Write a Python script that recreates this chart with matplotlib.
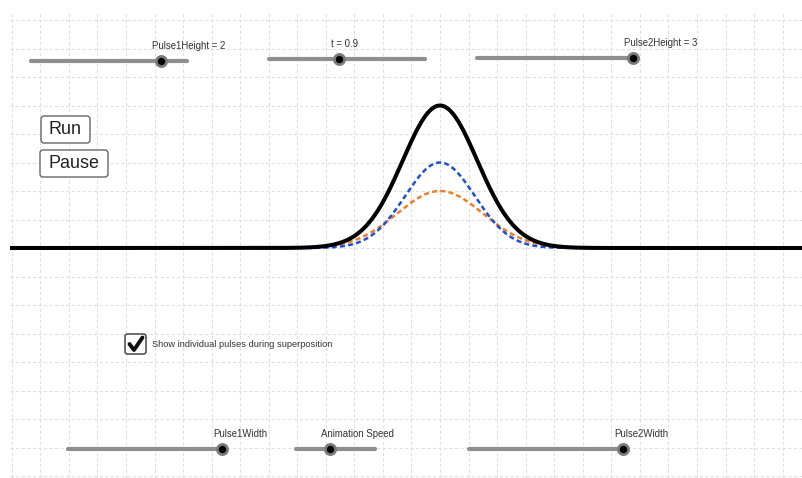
import numpy as np
import matplotlib
matplotlib.use("Agg")
import matplotlib.pyplot as plt
from matplotlib.patches import FancyBboxPatch

plt.rcParams['font.family'] = ['Liberation Sans', 'DejaVu Sans']

# pulse parameters (graph units, one grid cell = 1)
pulse_heights = [2, 3]          # Pulse1 (orange), Pulse2 (blue)
pulse_widths = [4.5, 3.0]       # h * exp(-x^2 / w)
pulse_centers = [0.0, 0.0]
pulse_colors = ['#f07c28', '#1f4fd8']

# slider widgets: label, min, max, value, show value
slider_names = ['Pulse1Height', 't', 'Pulse2Height', 'Pulse1Width', 'Animation Speed', 'Pulse2Width']
slider_mins = [-3, 0, -3, 0, 0, 0]
slider_maxs = [3, 2, 3, 5, 5, 5]
slider_values = [2, 0.9, 3, 5, 2.15, 5]
slider_show_value = [True, True, True, False, False, False]

button_labels = ['Run', 'Pause']
checkbox_label = 'Show individual pulses during superposition'

W, H = 802, 478
fig = plt.figure(figsize=(W / 100, H / 100), dpi=100)

# graphics view in graph units
ax = fig.add_axes([0, 0, 1, 1])
unit_x, unit_y = 28.55, 28.5
ox, oy = 440, 248
xmin, xmax = -ox / unit_x, (W - ox) / unit_x
ymin, ymax = -(H - oy) / unit_y, oy / unit_y
ax.set_xlim(xmin, xmax)
ax.set_ylim(ymin, ymax)
ax.axis('off')

grid_left = -(ox - 10) / unit_x
grid_top = (oy - 12) / unit_y
grid_style = dict(color='#e0e0e0', lw=0.8, linestyle=(0, (3, 2)), zorder=0)
for gx in range(int(np.ceil(grid_left)), int(np.floor(xmax)) + 1):
    ax.plot([gx, gx], [ymin, grid_top], **grid_style)
for gy in range(int(np.ceil(ymin)), int(np.floor(grid_top)) + 1):
    ax.plot([grid_left, xmax], [gy, gy], **grid_style)

x = np.linspace(grid_left, xmax, 3000)
total = np.zeros_like(x)
for h, w, c, col in zip(pulse_heights, pulse_widths, pulse_centers, pulse_colors):
    y = h * np.exp(-(x - c) ** 2 / w)
    total += y
    ax.plot(x, y, color=col, lw=1.8, linestyle=(0, (2.0, 1.3)), zorder=2)
ax.plot(x, total, color='black', lw=2.9, zorder=3, solid_capstyle='butt')

# overlay in screen pixels for the widgets
ui = fig.add_axes([0, 0, 1, 1])
ui.set_xlim(0, W)
ui.set_ylim(H, 0)
ui.axis('off')
ui.patch.set_alpha(0)

# slider track ends and row (pixels)
slider_x0 = [31, 269, 477, 68, 296, 469]
slider_x1 = [187, 425, 633, 222, 375, 623]
slider_y = [61, 59, 58, 449, 449, 449]

for name, lo, hi, val, show, x0, x1, sy in zip(slider_names, slider_mins, slider_maxs,
                                                slider_values, slider_show_value,
                                                slider_x0, slider_x1, slider_y):
    ui.plot([x0, x1], [sy, sy], color='#8e8e8e', lw=3, solid_capstyle='round', zorder=4)
    kx = x0 + (val - lo) / (hi - lo) * (x1 - x0)
    ui.plot(kx, sy, 'o', ms=7.3, mfc='black', mec='#7a7a7a', mew=2, zorder=5)
    label = f'{name} = {val:g}' if show else name
    ui.text(kx - 8.5, sy - 15, label, fontsize=6.9, color='#333333', ha='left', va='center', zorder=6)

# buttons
button_boxes = [(41, 116, 49, 27), (40, 150, 68, 27)]
for lab, (bx, by, bw, bh) in zip(button_labels, button_boxes):
    ui.add_patch(FancyBboxPatch((bx, by), bw, bh, boxstyle='round,pad=0,rounding_size=3',
                                fc='white', ec='#666666', lw=1.0, zorder=6))
    ui.text(bx + bw / 2, by + bh / 2 + 0.5, lab, fontsize=13, color='#222222',
            ha='center', va='center', zorder=7)

# checkbox
ui.add_patch(FancyBboxPatch((125, 334), 21, 20, boxstyle='round,pad=0,rounding_size=2.5',
                            fc='white', ec='#555555', lw=1.2, zorder=6))
ui.plot([129.5, 134, 142.5], [344, 350, 337.5], color='#111111', lw=2.8,
        solid_capstyle='round', solid_joinstyle='round', zorder=7)
ui.text(152, 344.5, checkbox_label, fontsize=6.7, color='#333333', ha='left', va='center', zorder=7)

fig.savefig('out.png', dpi=100)
